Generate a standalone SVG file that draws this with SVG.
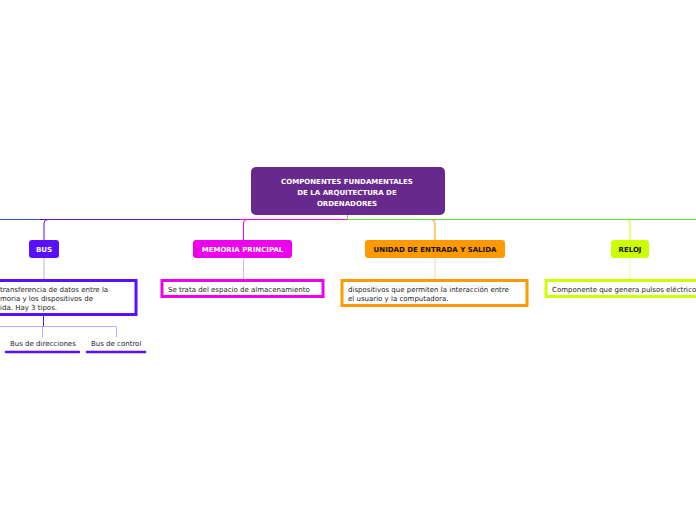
<svg xmlns="http://www.w3.org/2000/svg" width="696" height="520" viewBox="0 0 696 520">
<style>
text{font-family:"DejaVu Sans",Verdana,sans-serif;font-size:7px;fill:#222}
.t{font-weight:bold;fill:#fff;text-anchor:middle}
.c{fill:none;stroke-width:1}
.box{fill:#fff;stroke-width:3}
</style>
<rect width="696" height="520" fill="#fff"/>
<g id="connectors">
<path class="c" stroke="#3355ee" d="M0 219.5H40"/>
<path class="c" stroke="#5a0fff" d="M40 219.5H240"/>
<path class="c" stroke="#ee00ee" d="M240 219.5H347"/>
<path class="c" stroke="#66dd33" d="M347 219.5H696"/>
<path class="c" stroke="#66dd33" stroke-width="2" d="M347.5 214V220"/>
<path class="c" stroke="#5a0fff" d="M44 240V223Q44 219.5 48 219.5"/>
<path class="c" stroke="#c4a6ff" d="M44 258V280"/>
<path class="c" stroke="#ee00ee" d="M243.5 240V223Q243.5 219.5 247 219.5"/>
<path class="c" stroke="#f4a6f4" d="M243.5 258V280"/>
<path class="c" stroke="#ff9900" d="M435 240V223Q435 219.5 431 219.5"/>
<path class="c" stroke="#ffd199" d="M435 258V280"/>
<path class="c" stroke="#ccff00" d="M630 240V223Q630 219.5 626 219.5"/>
<path class="c" stroke="#eaff99" d="M630 258V280"/>
<path class="c" stroke="#5a0fff" d="M43.5 315V326"/>
<path class="c" stroke="#c4a6ff" d="M0 326.5H116.5V337M42.5 326.5V337"/>
</g>
<g id="center"><rect x="251" y="167" width="194" height="48" rx="5" fill="#68298f"/>
<text class="t" x="347" y="184" font-size="8">COMPONENTES FUNDAMENTALES</text>
<text class="t" x="347" y="195" font-size="8">DE LA ARQUITECTURA DE</text>
<text class="t" x="347" y="206" font-size="8">ORDENADORES</text></g>
<g id="bus"><rect x="29" y="240" width="30" height="18" rx="3" fill="#5a0fff"/><text class="t" x="44" y="252" font-size="6">BUS</text></g>
<g id="memoria"><rect x="193" y="240" width="99" height="18" rx="3" fill="#ee00ee"/><text class="t" x="242.5" y="252" font-size="6">MEMORIA PRINCIPAL</text></g>
<g id="unidad"><rect x="365" y="240" width="140" height="18" rx="3" fill="#ff9900"/><text class="t" x="435" y="252" font-size="6" style="fill:#111">UNIDAD DE ENTRADA Y SALIDA</text></g>
<g id="reloj"><rect x="611" y="240" width="38" height="18" rx="3" fill="#ccff00"/><text class="t" x="630" y="252" font-size="6" style="fill:#111">RELOJ</text></g>
<g id="bus-desc"><rect class="box" x="-10" y="280.5" width="146" height="34" stroke="#5a0fff"/>
<text x="0" y="292">transferencia de datos entre la</text><text x="0" y="301">moria y los dispositivos de</text><text x="0" y="310">ida. Hay 3 tipos.</text></g>
<g id="memoria-desc"><rect class="box" x="162" y="280.5" width="161" height="16" stroke="#ee00ee"/><text x="168" y="291.5">Se trata del espacio de almacenamiento</text></g>
<g id="unidad-desc"><rect class="box" x="342" y="280.5" width="185" height="25" stroke="#ff9900"/><text x="348" y="292">dispositivos que permiten la interacción entre</text><text x="348" y="301">el usuario y la computadora.</text></g>
<g id="reloj-desc"><rect class="box" x="546" y="280.5" width="160" height="16" stroke="#ccff00"/><text x="552" y="291.5">Componente que genera pulsos eléctricos</text></g>
<g id="bus-dir"><text x="10" y="346">Bus de direcciones</text><path d="M6 352H79" stroke="#5a0fff" stroke-width="2.5" stroke-linecap="round"/></g>
<g id="bus-ctrl"><text x="91" y="346">Bus de control</text><path d="M87 352H145" stroke="#5a0fff" stroke-width="2.5" stroke-linecap="round"/></g>
</svg>
